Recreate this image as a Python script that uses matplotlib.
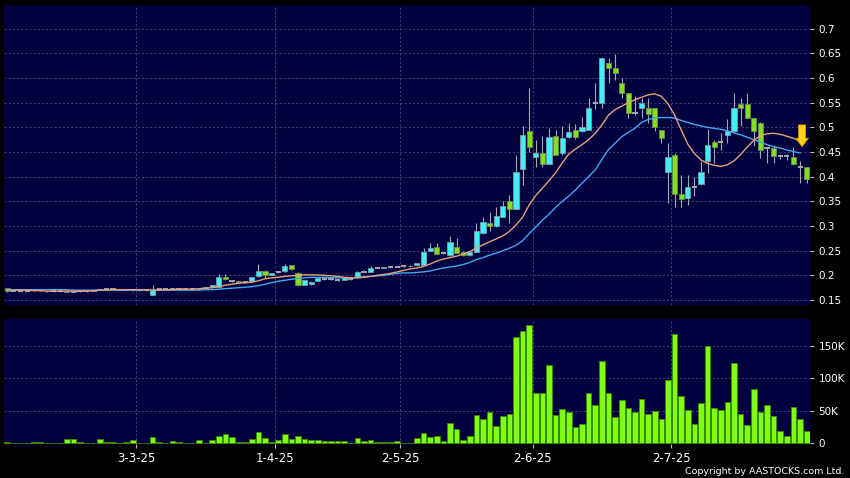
import numpy as np
import matplotlib
matplotlib.use('Agg')
import matplotlib.pyplot as plt
from matplotlib.ticker import FuncFormatter

plt.rcParams['font.family'] = 'DejaVu Sans'

# ==============================================================================
# DATA (daily sessions)
# ==============================================================================
OPEN = [0.174, 0.169, 0.169, 0.169, 0.170, 0.170, 0.169, 0.168, 0.168, 0.168,
        0.167, 0.168, 0.168, 0.169, 0.171, 0.172, 0.172, 0.172, 0.171, 0.170,
        0.170, 0.170, 0.161, 0.173, 0.173, 0.172, 0.172, 0.172, 0.172, 0.172,
        0.174, 0.176, 0.177, 0.196, 0.189, 0.188, 0.186, 0.189, 0.199, 0.208,
        0.201, 0.206, 0.208, 0.220, 0.204, 0.181, 0.182, 0.189, 0.192, 0.192,
        0.191, 0.191, 0.192, 0.196, 0.207, 0.207, 0.215, 0.215, 0.216, 0.217,
        0.218, 0.218, 0.220, 0.221, 0.250, 0.258, 0.245, 0.241, 0.258, 0.248,
        0.241, 0.248, 0.285, 0.306, 0.300, 0.319, 0.350, 0.335, 0.416, 0.492,
        0.440, 0.449, 0.426, 0.483, 0.449, 0.480, 0.494, 0.492, 0.495, 0.550,
        0.549, 0.630, 0.620, 0.590, 0.570, 0.529, 0.539, 0.539, 0.539, 0.494,
        0.409, 0.444, 0.365, 0.356, 0.380, 0.385, 0.431, 0.470, 0.471, 0.485,
        0.492, 0.548, 0.548, 0.519, 0.509, 0.458, 0.458, 0.441, 0.441, 0.440,
        0.419, 0.419]
HIGH = [0.175, 0.170, 0.169, 0.170, 0.172, 0.171, 0.169, 0.169, 0.168, 0.169,
        0.169, 0.168, 0.169, 0.171, 0.172, 0.172, 0.173, 0.172, 0.172, 0.171,
        0.171, 0.170, 0.180, 0.174, 0.173, 0.173, 0.173, 0.173, 0.172, 0.174,
        0.177, 0.181, 0.203, 0.203, 0.190, 0.189, 0.188, 0.197, 0.224, 0.210,
        0.205, 0.207, 0.224, 0.222, 0.206, 0.191, 0.188, 0.196, 0.194, 0.193,
        0.192, 0.197, 0.193, 0.209, 0.210, 0.218, 0.217, 0.217, 0.217, 0.219,
        0.219, 0.220, 0.226, 0.255, 0.266, 0.265, 0.248, 0.280, 0.276, 0.250,
        0.250, 0.306, 0.319, 0.329, 0.339, 0.350, 0.363, 0.444, 0.502, 0.580,
        0.475, 0.482, 0.498, 0.494, 0.503, 0.509, 0.507, 0.521, 0.559, 0.590,
        0.641, 0.640, 0.649, 0.600, 0.570, 0.563, 0.559, 0.559, 0.539, 0.494,
        0.469, 0.448, 0.404, 0.404, 0.400, 0.431, 0.497, 0.475, 0.488, 0.517,
        0.570, 0.559, 0.570, 0.520, 0.510, 0.460, 0.465, 0.445, 0.447, 0.461,
        0.431, 0.420]
LOW = [0.166, 0.168, 0.168, 0.168, 0.169, 0.169, 0.167, 0.167, 0.167, 0.166,
       0.166, 0.167, 0.167, 0.168, 0.170, 0.171, 0.171, 0.171, 0.170, 0.169,
       0.169, 0.169, 0.160, 0.172, 0.172, 0.171, 0.171, 0.171, 0.171, 0.171,
       0.173, 0.175, 0.175, 0.191, 0.187, 0.186, 0.185, 0.188, 0.197, 0.194,
       0.200, 0.205, 0.207, 0.211, 0.178, 0.180, 0.181, 0.188, 0.191, 0.191,
       0.189, 0.190, 0.191, 0.195, 0.206, 0.206, 0.214, 0.214, 0.215, 0.216,
       0.217, 0.217, 0.219, 0.220, 0.249, 0.243, 0.243, 0.240, 0.245, 0.240,
       0.240, 0.247, 0.284, 0.289, 0.299, 0.318, 0.306, 0.334, 0.383, 0.451,
       0.419, 0.419, 0.425, 0.443, 0.444, 0.478, 0.476, 0.490, 0.494, 0.538,
       0.539, 0.590, 0.597, 0.559, 0.519, 0.525, 0.519, 0.509, 0.492, 0.469,
       0.346, 0.339, 0.339, 0.343, 0.360, 0.384, 0.407, 0.427, 0.455, 0.468,
       0.491, 0.502, 0.518, 0.463, 0.438, 0.428, 0.428, 0.436, 0.433, 0.424,
       0.387, 0.388]
CLOSE = [0.168, 0.169, 0.169, 0.169, 0.170, 0.170, 0.168, 0.168, 0.168, 0.167,
         0.168, 0.168, 0.168, 0.170, 0.172, 0.172, 0.172, 0.171, 0.171, 0.170,
         0.170, 0.170, 0.170, 0.173, 0.173, 0.172, 0.172, 0.172, 0.172, 0.173,
         0.176, 0.180, 0.197, 0.192, 0.189, 0.187, 0.186, 0.196, 0.209, 0.201,
         0.204, 0.206, 0.219, 0.212, 0.180, 0.190, 0.187, 0.195, 0.192, 0.192,
         0.191, 0.196, 0.192, 0.207, 0.207, 0.214, 0.215, 0.216, 0.216, 0.217,
         0.218, 0.219, 0.225, 0.248, 0.255, 0.243, 0.245, 0.268, 0.246, 0.241,
         0.248, 0.289, 0.309, 0.300, 0.320, 0.341, 0.334, 0.409, 0.485, 0.460,
         0.449, 0.426, 0.480, 0.444, 0.479, 0.490, 0.480, 0.500, 0.539, 0.550,
         0.640, 0.620, 0.610, 0.570, 0.529, 0.529, 0.549, 0.528, 0.500, 0.479,
         0.440, 0.365, 0.354, 0.379, 0.380, 0.409, 0.465, 0.461, 0.471, 0.492,
         0.539, 0.539, 0.519, 0.492, 0.455, 0.458, 0.441, 0.441, 0.441, 0.426,
         0.419, 0.396]

# volume in thousands of shares
VOLUME_K = [1.5, 0.3, 0.3, 0.5, 1.5, 2.5, 0.3, 1.0, 0.5, 6.6,
            6.6, 1.5, 0.2, 0.3, 6.6, 2.0, 2.0, 0.5, 2.0, 4.6,
            1.0, 1.0, 9.2, 2.0, 0.5, 3.0, 2.5, 0.5, 0.5, 5.6,
            1.0, 5.6, 11.8, 14.4, 10.3, 2.5, 2.5, 6.0, 17.0, 7.7,
            1.5, 5.6, 13.8, 6.0, 10.8, 6.6, 4.6, 4.6, 3.0, 3.0,
            3.0, 3.0, 0.5, 7.7, 3.6, 5.6, 2.5, 1.5, 1.5, 3.6,
            0.5, 0.3, 7.7, 15.4, 9.7, 11.3, 3.3, 31.5, 21.5, 4.8,
            10.5, 43.5, 38.0, 48.0, 26.7, 41.5, 45.7, 163.5, 173.5, 181.6,
            77.0, 77.0, 120.5, 43.0, 52.3, 48.7, 24.6, 29.5, 77.8, 58.7,
            126.0, 77.0, 40.0, 67.0, 54.0, 47.7, 68.7, 45.0, 50.0, 38.0,
            97.0, 167.8, 72.3, 51.8, 30.3, 62.6, 149.8, 54.0, 51.8, 64.0,
            124.0, 45.7, 28.7, 84.0, 48.2, 59.0, 42.0, 19.0, 11.3, 56.4,
            37.5, 18.5]

# moving averages as drawn (10-day orange, 20-day blue), last session has none
MA10 = [0.170, 0.170, 0.170, 0.170, 0.169, 0.169, 0.168, 0.168, 0.168, 0.168,
        0.168, 0.168, 0.168, 0.169, 0.170, 0.170, 0.171, 0.171, 0.171, 0.171,
        0.171, 0.170, 0.170, 0.170, 0.171, 0.171, 0.172, 0.172, 0.172, 0.173,
        0.174, 0.175, 0.177, 0.180, 0.182, 0.184, 0.185, 0.186, 0.189, 0.193,
        0.195, 0.196, 0.198, 0.199, 0.200, 0.201, 0.201, 0.201, 0.200, 0.199,
        0.198, 0.196, 0.195, 0.195, 0.196, 0.198, 0.200, 0.202, 0.204, 0.207,
        0.210, 0.213, 0.215, 0.218, 0.223, 0.229, 0.233, 0.236, 0.239, 0.243,
        0.248, 0.255, 0.262, 0.268, 0.274, 0.280, 0.289, 0.302, 0.318, 0.343,
        0.362, 0.377, 0.392, 0.408, 0.428, 0.446, 0.456, 0.465, 0.475, 0.488,
        0.505, 0.525, 0.536, 0.543, 0.550, 0.556, 0.561, 0.566, 0.568, 0.563,
        0.548, 0.525, 0.495, 0.466, 0.447, 0.434, 0.427, 0.423, 0.421, 0.424,
        0.432, 0.445, 0.460, 0.474, 0.483, 0.487, 0.488, 0.486, 0.482, 0.478,
        0.472]
MA20 = [0.171, 0.171, 0.171, 0.171, 0.171, 0.171, 0.171, 0.171, 0.171, 0.171,
        0.170, 0.170, 0.170, 0.170, 0.170, 0.170, 0.170, 0.170, 0.170, 0.170,
        0.170, 0.170, 0.170, 0.170, 0.170, 0.170, 0.170, 0.170, 0.170, 0.170,
        0.171, 0.171, 0.172, 0.173, 0.174, 0.175, 0.176, 0.177, 0.179, 0.182,
        0.185, 0.188, 0.190, 0.192, 0.194, 0.195, 0.196, 0.196, 0.196, 0.195,
        0.195, 0.195, 0.195, 0.196, 0.197, 0.198, 0.199, 0.200, 0.202, 0.204,
        0.205, 0.205, 0.206, 0.207, 0.209, 0.212, 0.215, 0.217, 0.219, 0.222,
        0.226, 0.232, 0.236, 0.241, 0.245, 0.250, 0.255, 0.261, 0.270, 0.285,
        0.298, 0.312, 0.324, 0.338, 0.350, 0.361, 0.373, 0.387, 0.400, 0.414,
        0.435, 0.455, 0.468, 0.481, 0.490, 0.498, 0.510, 0.516, 0.519, 0.520,
        0.520, 0.519, 0.514, 0.510, 0.506, 0.503, 0.500, 0.498, 0.496, 0.493,
        0.489, 0.485, 0.480, 0.475, 0.470, 0.465, 0.461, 0.458, 0.454, 0.451,
        0.448]

# session index of the labelled dates
TICK_SESSIONS = [20, 41, 60, 80, 101]
TICK_LABELS = ['3-3-25', '1-4-25', '2-5-25', '2-6-25', '2-7-25']

PRICE_TICKS = [0.15, 0.2, 0.25, 0.3, 0.35, 0.4, 0.45, 0.5, 0.55, 0.6, 0.65, 0.7]
VOL_TICKS_K = [0, 50, 100, 150]

# ==============================================================================
# STYLE
# ==============================================================================
BG = '#000000'
PANEL = '#00003e'
GRID = '#4c4c7c'
UP = '#3ff0f8'
DOWN = '#80e020'
WICK = '#a8a8a8'
VOLC = '#80ff10'

o = np.array(OPEN)
h = np.array(HIGH)
l = np.array(LOW)
c = np.array(CLOSE)
v = np.array(VOLUME_K) * 1000
x = np.arange(len(c))

fig = plt.figure(figsize=(8.5, 4.78), dpi=100, facecolor=BG)
ax = fig.add_axes([4 / 850, 1 - 305 / 478, 806 / 850, 300 / 478])
axv = fig.add_axes([4 / 850, 1 - 444 / 478, 806 / 850, 125 / 478])

# grid sits on the left edge of the dated session
grid_x = np.array(TICK_SESSIONS) - 0.5

for a in (ax, axv):
    a.set_facecolor(PANEL)
    for s in a.spines.values():
        s.set_visible(False)
    a.set_xlim(-0.5, len(c) - 0.5)
    a.set_xticks(grid_x)
    a.grid(True, color=GRID, linestyle=(0, (2.5, 2.5)), linewidth=0.6)
    a.set_axisbelow(True)
    a.yaxis.tick_right()
    a.tick_params(axis='y', colors='#bbbbbb', labelcolor='white', length=3,
                  width=0.8, pad=3, labelsize=7.5)

# ---- candles
body_w = 0.78
ax.vlines(x, l, h, color=WICK, linewidth=0.8, zorder=2)
flat = o == c
rising = c > o
falling = c < o
ax.bar(x[rising], (c - o)[rising], bottom=o[rising], width=body_w,
       color=UP, edgecolor='#7c9ca4', linewidth=0.6, zorder=3)
ax.bar(x[falling], (o - c)[falling], bottom=c[falling], width=body_w,
       color=DOWN, edgecolor='#6c8c50', linewidth=0.6, zorder=3)
ax.hlines(c[flat], x[flat] - body_w / 2, x[flat] + body_w / 2,
          color=WICK, linewidth=1.4, zorder=3)

# ---- moving averages
ax.plot(np.arange(len(MA20)), MA20, color='#40a8f0', linewidth=1.0, zorder=4)
ax.plot(np.arange(len(MA10)), MA10, color='#e8a078', linewidth=1.0, zorder=5)

# ---- marker arrow on the last full session
ax.annotate('', xy=(len(MA10) - 0.7, 0.461), xytext=(len(MA10) - 0.7, 0.505),
            arrowprops=dict(arrowstyle='simple,head_width=0.9,head_length=0.6,tail_width=0.5',
                            fc='#ffd21a', ec='#d89a00', lw=0.6,
                            shrinkA=0, shrinkB=0), zorder=6)

ax.set_ylim(0.1399, 0.7481)
ax.set_yticks(PRICE_TICKS)
ax.yaxis.set_major_formatter(FuncFormatter(lambda val, pos: f'{val:g}'))
ax.tick_params(axis='x', length=0, labelbottom=False)

# ---- volume
axv.bar(x, v, width=0.85, color=VOLC, edgecolor='#3c8a00', linewidth=0.6, zorder=3)
axv.set_ylim(-1100, 191200)
axv.set_yticks(np.array(VOL_TICKS_K) * 1000)
axv.yaxis.set_major_formatter(
    FuncFormatter(lambda val, pos: '0' if val == 0 else f'{int(val / 1000)}K'))
axv.set_xticklabels(TICK_LABELS)
axv.tick_params(axis='x', colors='#bbbbbb', labelcolor='white', length=3,
                width=0.8, pad=3, labelsize=8.5)

fig.text(844 / 850, 1 - 472 / 478, 'Copyright by AASTOCKS.com Ltd.', color='white',
         fontsize=6.8, ha='right', va='center')

fig.savefig('out.png', dpi=100, facecolor=BG)
